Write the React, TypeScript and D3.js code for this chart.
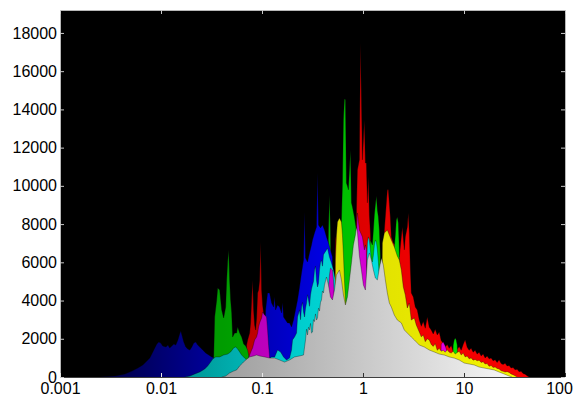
import React, { useEffect, useRef } from "react";
import * as d3 from "d3";

type Pt = [number, number];

const xTicks = [0.001, 0.01, 0.1, 1, 10, 100];
const xTickLabels = ["0.001", "0.01", "0.1", "1", "10", "100"];
const yTicks = [0, 2000, 4000, 6000, 8000, 10000, 12000, 14000, 16000, 18000];

// each series: [size, count] (drawn back to front, stacked look)
const navy: Pt[] = [
  [0.00249, 0], [0.0035, 50], [0.00439, 160], [0.00515, 310], [0.0059, 470], [0.00661, 630],
  [0.00724, 840], [0.00775, 990], [0.0083, 1310], [0.00868, 1520], [0.00909, 1730], [0.00951, 1830],
  [0.00995, 1780], [0.0104, 1620], [0.0112, 1570], [0.0117, 1670], [0.0122, 1520], [0.0128, 1620],
  [0.0134, 1730], [0.014, 1670], [0.0147, 1940], [0.0153, 2250], [0.0157, 2410], [0.016, 2250],
  [0.0168, 1830], [0.0176, 1570], [0.0184, 1470], [0.0193, 1410], [0.0202, 1570], [0.0211, 1780],
  [0.0221, 1830], [0.0231, 1670], [0.0242, 1570], [0.0259, 1410], [0.0277, 1260], [0.0297, 1150],
  [0.0318, 1050], [0.034, 990], [0.0356, 0],
];

const red: Pt[] = [
  [0.0689, 0], [0.0704, 1670], [0.0721, 1940], [0.0754, 2300], [0.0771, 2830], [0.0789, 4030],
  [0.0807, 5080], [0.0826, 3510], [0.0845, 2720], [0.0864, 2460], [0.0884, 3090], [0.0905, 4400],
  [0.0925, 4550], [0.0947, 5080], [0.0969, 7060], [0.0991, 4550], [0.1014, 3770], [0.1037, 3350],
  [0.1061, 2460], [0.1085, 0],
  [0.522, 0], [0.534, 7170], [0.546, 7540], [0.559, 0],
  [0.841, 0], [0.861, 8740], [0.88, 10830], [0.921, 11360], [0.943, 17480], [0.964, 14650],
  [0.987, 11360], [1.009, 12400], [1.032, 13450], [1.056, 11200], [1.08, 11200], [1.105, 9110],
  [1.131, 10470], [1.157, 8480], [1.184, 7540], [1.211, 6000], [1.239, 0],
  [1.59, 0], [1.627, 7690], [1.703, 9110], [1.742, 9790], [1.782, 9790], [1.865, 8370],
  [1.908, 7330], [1.997, 7010], [2.09, 6900], [2.187, 6600], [2.289, 6280], [2.395, 7330],
  [2.451, 7850], [2.565, 6650], [2.624, 7330], [2.746, 7850], [2.809, 8580], [2.874, 7540],
  [2.94, 5760], [3.008, 4400], [3.148, 4190], [3.294, 3660], [3.447, 3510], [3.608, 2980],
  [3.776, 2650], [3.951, 2900], [4.135, 2550], [4.327, 3140], [4.53, 2600], [4.741, 2460],
  [4.961, 2250], [5.192, 2500], [5.434, 2200], [5.687, 2350], [5.951, 1900], [6.228, 1780],
  [6.518, 1570], [6.821, 1700], [7.14, 1500], [7.472, 1650], [7.82, 1350], [8.184, 1300],
  [8.565, 1450], [8.964, 1600], [9.381, 1400], [9.817, 1700], [10.27, 1950], [10.75, 1550],
  [11.25, 1400], [11.77, 1500], [12.32, 1300], [12.89, 1400], [13.49, 1200], [14.13, 1300],
  [14.78, 1100], [15.47, 1200], [16.19, 1000], [16.94, 1100], [17.74, 950], [18.56, 1000],
  [19.42, 850], [20.33, 900], [21.28, 760], [22.27, 900], [23.3, 700], [24.39, 650],
  [25.52, 720], [26.71, 580], [27.96, 600], [29.26, 470], [30.62, 500], [32.04, 380],
  [33.54, 400], [35.11, 280], [36.74, 300], [38.45, 180], [40.24, 150], [42.11, 60], [44.08, 0],
];

const green: Pt[] = [
  [0.0328, 0], [0.0332, 890], [0.034, 3140], [0.0356, 4030], [0.0364, 4660], [0.0381, 4550],
  [0.0399, 3510], [0.0417, 3090], [0.0437, 3660], [0.0447, 5080], [0.0457, 6020], [0.0468, 6650],
  [0.0478, 5080], [0.0489, 4030], [0.0501, 3350], [0.0512, 2090], [0.0536, 2300], [0.0561, 2300],
  [0.0574, 2620], [0.0601, 2300], [0.0629, 2090], [0.0658, 1730], [0.0689, 1620], [0.0721, 1410],
  [0.0754, 890], [0.0789, 0],
  [0.416, 0], [0.445, 4030], [0.455, 7690], [0.466, 9520], [0.476, 7690], [0.487, 4030], [0.499, 0],
  [0.546, 0], [0.559, 4030], [0.585, 7170], [0.612, 8220], [0.626, 10150], [0.64, 13450],
  [0.655, 14550], [0.67, 14500], [0.685, 10150], [0.701, 9990], [0.717, 9790], [0.734, 10830],
  [0.751, 11880], [0.768, 9110], [0.786, 8900], [0.822, 8370], [0.861, 7690], [0.88, 0],
  [1.105, 0], [1.131, 6120], [1.184, 7170], [1.239, 6910], [1.296, 8480], [1.326, 9000],
  [1.357, 9470], [1.388, 8740], [1.42, 8370], [1.452, 7690], [1.485, 6380], [1.52, 0],
  [1.952, 0], [1.997, 6120], [2.09, 7430], [2.138, 8220], [2.187, 8370], [2.237, 8060],
  [2.289, 6650], [2.342, 0],
  [7.644, 0], [7.82, 1670], [8.0, 1940], [8.184, 2040], [8.372, 1940], [8.565, 1670], [8.762, 0],
];

const blue: Pt[] = [
  [0.1037, 0], [0.1085, 3510], [0.1136, 4400], [0.1189, 4400], [0.1244, 3870], [0.1302, 3660],
  [0.1333, 4200], [0.1363, 3510], [0.1426, 3770], [0.1493, 3660], [0.1562, 3350], [0.1598, 3900],
  [0.1635, 3140], [0.1711, 2980], [0.1791, 2830], [0.1874, 2830], [0.1961, 2620], [0.2052, 2980],
  [0.2148, 3510], [0.2248, 4030], [0.2353, 4710], [0.2462, 5440], [0.2577, 6120], [0.2636, 8630],
  [0.2697, 6230], [0.2822, 6020], [0.2954, 6490], [0.3091, 6910], [0.3162, 7170], [0.331, 7540],
  [0.3463, 7850], [0.3543, 10680], [0.3625, 7950], [0.3794, 7800], [0.3971, 7950], [0.4156, 7690],
  [0.435, 7330], [0.4551, 7010], [0.4763, 6650], [0.4985, 6280], [0.5217, 0],
];

const teal: Pt[] = [
  [0.0172, 0], [0.0193, 50], [0.0216, 160], [0.0242, 260], [0.0271, 420], [0.029, 580],
  [0.031, 780], [0.0325, 940], [0.0348, 1050], [0.0381, 1050], [0.0417, 1150], [0.0457, 1200],
  [0.0489, 1310], [0.0524, 1520], [0.0548, 1570], [0.0574, 1470], [0.0601, 1310], [0.0629, 1150],
  [0.0673, 990], [0.072, 840], [0.0789, 680], [0.0864, 470], [0.0947, 260], [0.104, 0],
];

const cyan: Pt[] = [
  [0.1085, 0], [0.1136, 890], [0.1244, 1050], [0.1334, 1050], [0.1426, 1410], [0.1527, 1310],
  [0.1635, 1050], [0.1749, 890], [0.1874, 990], [0.1961, 1410], [0.2006, 1940], [0.21, 2090],
  [0.2198, 2300], [0.2248, 3140], [0.2353, 3510], [0.2407, 3000], [0.2462, 3660], [0.2519, 3900],
  [0.2577, 3400], [0.2636, 3140], [0.2697, 3600], [0.2759, 3870], [0.2822, 4300], [0.2887, 4030],
  [0.2954, 3700], [0.3022, 4290], [0.3091, 4600], [0.3162, 4810], [0.3235, 5000], [0.331, 5600],
  [0.3386, 5800], [0.3463, 5080], [0.3543, 4710], [0.3625, 4900], [0.3709, 5600], [0.3794, 6000],
  [0.3882, 6120], [0.3971, 5800], [0.4062, 6400], [0.4156, 6490], [0.435, 6650], [0.445, 6750],
  [0.4656, 6280], [0.4873, 5970], [0.5099, 5600], [0.5337, 5080], [0.5585, 0],
  [1.0324, 0], [1.0561, 4030], [1.1053, 7010], [1.1307, 7330], [1.157, 7170], [1.1836, 6650],
  [1.2108, 6120], [1.2387, 6020], [1.2672, 6380], [1.2963, 6910], [1.3262, 7170], [1.3566, 7060],
  [1.3878, 6650], [1.4198, 6020], [1.452, 5230], [1.4854, 4030], [1.5196, 0],
];

const magenta: Pt[] = [
  [0.0689, 0], [0.0721, 890], [0.0754, 1150], [0.0789, 1410], [0.0807, 1520], [0.0845, 1940],
  [0.0884, 2090], [0.0905, 2300], [0.0925, 2620], [0.0947, 2830], [0.0991, 3090], [0.1014, 3400],
  [0.1061, 3240], [0.111, 3140], [0.1136, 2460], [0.1162, 1670], [0.1189, 1050], [0.1216, 0],
  [0.4253, 0], [0.445, 4030], [0.4656, 5340], [0.4763, 5700], [0.4985, 5600], [0.5099, 5080],
  [0.5217, 4030], [0.5337, 0],
  [0.8224, 0], [0.8606, 7170], [0.8804, 8580], [0.9214, 7690], [0.9865, 7330], [1.0324, 6650],
  [1.0561, 6910], [1.0804, 6650], [1.1053, 0],
  [5.818, 0], [5.951, 1730], [6.228, 1830], [6.518, 1620], [6.821, 1310], [6.979, 0],
];

const yellow: Pt[] = [
  [0.5217, 0], [0.5337, 6120], [0.5459, 7430], [0.5585, 8110], [0.5846, 8320], [0.6118, 8110],
  [0.6259, 7430], [0.6402, 6380], [0.655, 5080], [0.67, 4030], [0.6854, 3510], [0.7012, 0],
  [1.5196, 0], [1.5546, 7010], [1.6268, 7540], [1.7416, 7690], [1.823, 7430], [1.9078, 7170],
  [2.0425, 6800], [2.1867, 6330], [2.289, 6120], [2.3954, 5600], [2.5067, 4710], [2.6236, 4290],
  [2.7457, 3610], [2.874, 3870], [3.0077, 2980], [3.22, 3090], [3.37, 2720], [3.608, 2350],
  [3.776, 2100], [3.951, 2200], [4.135, 1850], [4.327, 2000], [4.53, 1940], [4.741, 1700],
  [4.961, 1600], [5.192, 1750], [5.434, 1400], [5.687, 1500], [5.951, 1350], [6.228, 1400],
  [6.518, 1300], [6.821, 1420], [7.14, 1300], [7.472, 1250], [7.82, 1350], [8.184, 1200],
  [8.565, 1280], [8.964, 1350], [9.381, 1150], [9.817, 1250], [10.27, 1050], [10.75, 1100],
  [11.25, 950], [11.77, 1000], [12.32, 880], [12.89, 920], [13.49, 850], [14.13, 880],
  [14.78, 760], [15.47, 800], [16.19, 680], [16.94, 700], [17.74, 560], [18.56, 600],
  [19.42, 500], [20.33, 520], [21.28, 450], [22.27, 420], [23.3, 330], [24.39, 300],
  [25.52, 260], [26.71, 280], [27.96, 240], [29.26, 160], [30.62, 120], [32.04, 60], [33.54, 0],
];

const gray: Pt[] = [
  [0.0399, 0], [0.0437, 50], [0.0478, 210], [0.0524, 310], [0.0561, 370], [0.0601, 580],
  [0.0643, 730], [0.0689, 890], [0.0754, 1050], [0.0826, 1100], [0.0884, 1150], [0.0947, 1100],
  [0.1061, 1050], [0.1189, 990], [0.1334, 990], [0.1493, 890], [0.1672, 780], [0.1874, 890],
  [0.21, 1050], [0.2353, 1100], [0.2577, 1150], [0.2697, 1940], [0.2759, 2500], [0.2822, 2200],
  [0.2887, 2600], [0.2954, 2460], [0.3022, 2800], [0.3091, 2300], [0.3162, 2350], [0.3235, 3000],
  [0.331, 2900], [0.3386, 3300], [0.3463, 2980], [0.3543, 3090], [0.3625, 3600], [0.3709, 3450],
  [0.3794, 3900], [0.3882, 4030], [0.3971, 4500], [0.4062, 4400], [0.4156, 4810], [0.435, 5230],
  [0.4551, 4810], [0.4763, 4190], [0.4985, 4030], [0.5217, 4550], [0.5459, 5340], [0.5846, 5600],
  [0.6118, 5080], [0.6402, 4290], [0.67, 3770], [0.7012, 4190], [0.734, 5080], [0.7681, 5970],
  [0.8038, 6910], [0.8413, 7430], [0.8606, 7850], [0.8804, 7590], [0.9214, 6330], [0.9643, 5600],
  [1.0092, 4810], [1.0561, 4550], [1.0804, 5340], [1.1053, 6120], [1.157, 6490], [1.2108, 6120],
  [1.2672, 5600], [1.3262, 5180], [1.3878, 5080], [1.452, 5700], [1.5196, 6230], [1.59, 5860],
  [1.6644, 5080], [1.7416, 4400], [1.823, 3870], [1.9078, 3660], [2.0425, 3240], [2.1867, 2980],
  [2.3954, 2830], [2.5646, 2460], [2.7457, 2300], [3.0077, 2090], [3.22, 1940], [3.4474, 1780],
  [3.608, 1670], [4.0424, 1570], [4.53, 1410], [5.0754, 1310], [5.687, 1200], [6.3717, 1150],
  [7.14, 1050], [8.0, 990], [8.964, 890], [10.04, 730], [11.25, 680], [12.6, 630],
  [14.13, 520], [15.83, 470], [17.74, 420], [19.88, 370], [22.27, 260], [24.95, 160],
  [27.96, 50], [29.93, 0],
];

// drawing order and horizontal shading (dark on the left, lighter on the right)
const layers = [
  { data: navy, x0: 0.004, x1: 0.03, c0: "#000050", c1: "#000098" },
  { data: red, x0: 0.07, x1: 5, c0: "#bc0000", c1: "#f40000" },
  { data: green, x0: 0.04, x1: 10, c0: "#009c00", c1: "#00e400" },
  { data: blue, x0: 0.1, x1: 0.5, c0: "#0000b8", c1: "#0000e8" },
  { data: teal, x0: 0.02, x1: 0.07, c0: "#009898", c1: "#00b4b4" },
  { data: cyan, x0: 0.1, x1: 1.5, c0: "#00c4c4", c1: "#00e0e0" },
  { data: magenta, x0: 0.07, x1: 10, c0: "#b800b8", c1: "#e800e8" },
  { data: yellow, x0: 0.5, x1: 30, c0: "#dcdc00", c1: "#f4f400" },
  { data: gray, x0: 0.035, x1: 45, c0: "#9c9c9c", c1: "#fbfbfb" },
];

const App = () => {
  const ref = useRef<SVGSVGElement>(null);

  useEffect(() => {
    const svg = d3.select(ref.current);
    svg.selectAll("*").remove();

    const left = 60, right = 565, top = 10, bottom = 377;
    const font = "'Liberation Sans', Arial, Helvetica, sans-serif";

    const x = d3.scaleLog().domain([0.001, 100]).range([left, right]);
    const y = d3.scaleLinear().domain([0, 19200]).range([bottom, top]);

    const defs = svg.append("defs");
    defs.append("clipPath").attr("id", "plotclip")
      .append("rect")
      .attr("x", left).attr("y", top)
      .attr("width", right - left).attr("height", bottom - top);

    layers.forEach((l, i) => {
      const g = defs.append("linearGradient")
        .attr("id", "grad" + i)
        .attr("gradientUnits", "userSpaceOnUse")
        .attr("x1", x(l.x0)).attr("x2", x(l.x1))
        .attr("y1", 0).attr("y2", 0);
      g.append("stop").attr("offset", 0).attr("stop-color", l.c0);
      g.append("stop").attr("offset", 1).attr("stop-color", l.c1);
    });

    svg.append("rect")
      .attr("x", left).attr("y", top)
      .attr("width", right - left).attr("height", bottom - top)
      .attr("fill", "#000");

    const area = d3.area<Pt>().x((d) => x(d[0])).y0(bottom).y1((d) => y(d[1]));
    const line = d3.line<Pt>().x((d) => x(d[0])).y((d) => y(d[1]));

    const plot = svg.append("g").attr("clip-path", "url(#plotclip)");
    layers.forEach((l, i) => {
      plot.append("path").attr("d", area(l.data)).attr("fill", `url(#grad${i})`);
      plot.append("path")
        .attr("d", line(l.data))
        .attr("fill", "none")
        .attr("stroke", "#000")
        .attr("stroke-opacity", 0.45)
        .attr("stroke-width", 0.7);
    });

    // frame
    const frame = svg.append("g").attr("shape-rendering", "crispEdges");
    frame.append("line").attr("x1", left).attr("x2", left).attr("y1", top).attr("y2", bottom).attr("stroke", "#b8b8b8");
    frame.append("line").attr("x1", right).attr("x2", right).attr("y1", top).attr("y2", bottom).attr("stroke", "#b8b8b8");
    frame.append("line").attr("x1", left).attr("x2", right).attr("y1", top).attr("y2", top).attr("stroke", "#b8b8b8");
    frame.append("line").attr("x1", left).attr("x2", right).attr("y1", bottom).attr("y2", bottom).attr("stroke", "#404040");

    const yAxis = svg.append("g")
      .attr("transform", `translate(${left},0)`)
      .call(d3.axisLeft(y).tickValues(yTicks).tickFormat(d3.format("d")).tickSize(-4).tickPadding(3));
    yAxis.select(".domain").remove();
    yAxis.selectAll("line").attr("stroke", "#c8c8c8");
    yAxis.selectAll("text").style("font-family", font).style("font-size", "16px").attr("fill", "#000");

    const yAxisR = svg.append("g")
      .attr("transform", `translate(${right},0)`)
      .call(d3.axisRight(y).tickValues(yTicks).tickFormat(() => "").tickSize(-4));
    yAxisR.select(".domain").remove();
    yAxisR.selectAll("line").attr("stroke", "#c8c8c8");

    const xAxisT = svg.append("g")
      .attr("transform", `translate(0,${top})`)
      .call(d3.axisTop(x).tickValues(xTicks).tickFormat(() => "").tickSize(-4));
    xAxisT.select(".domain").remove();
    xAxisT.selectAll("line").attr("stroke", "#c8c8c8");

    const xAxis = svg.append("g")
      .attr("transform", `translate(0,${bottom})`)
      .call(
        d3.axisBottom(x)
          .tickValues(xTicks)
          .tickFormat((d, i) => xTickLabels[i])
          .tickSize(-4)
          .tickPadding(6)
      );
    xAxis.select(".domain").remove();
    xAxis.selectAll<SVGLineElement, number>("line").attr("stroke", (d) => (d < 1 ? "#e8e8e8" : "#303030"));
    xAxis.selectAll<SVGTextElement, number>("text")
      .style("font-family", font)
      .style("font-size", "16px")
      .attr("fill", "#000")
      .attr("dx", (d) => (d >= 100 ? -6 : 0));
  }, []);

  return (
    <svg
      ref={ref}
      width={575}
      height={398}
      style={{ position: "absolute", left: 0, top: 0, background: "#fff" }}
    ></svg>
  );
};

export default App;
